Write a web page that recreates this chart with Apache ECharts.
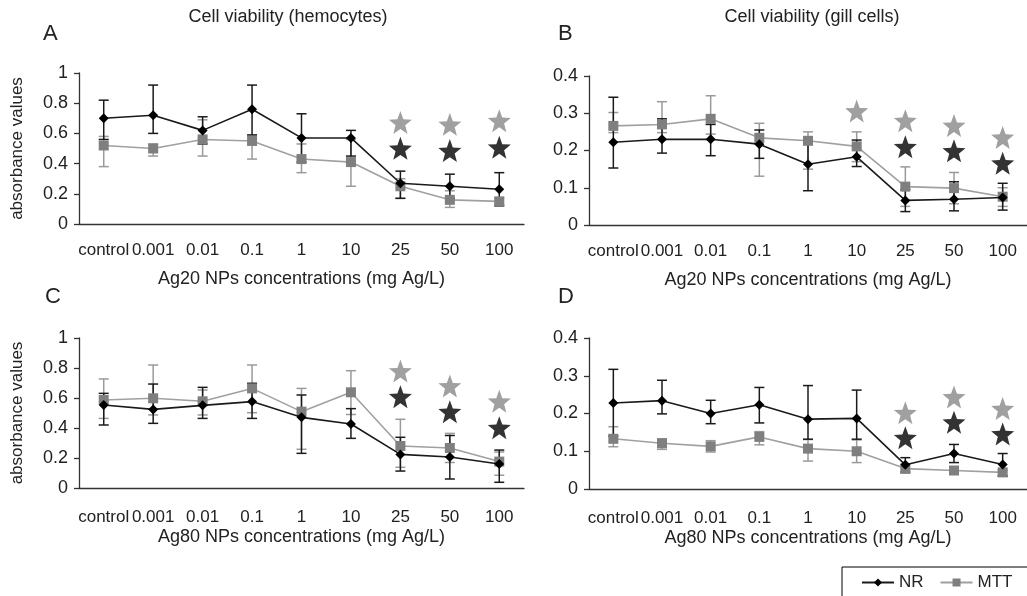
<!DOCTYPE html>
<html>
<head>
<meta charset="utf-8">
<script src="https://cdn.jsdelivr.net/npm/echarts@6/dist/echarts.min.js"></script>
<style>
  html, body { margin: 0; padding: 0; background: #fff; }
  #chart { width: 1027px; height: 596px; }
</style>
</head>
<body>
<div id="chart"></div>
<script>
var categories = ['control', '0.001', '0.01', '0.1', '1', '10', '25', '50', '100'];

// A: hemocytes, Ag20
var A_NR     = [0.70, 0.72, 0.62, 0.76, 0.57, 0.57, 0.27, 0.25, 0.23];
var A_NR_LO  = [0.56, 0.60, 0.53, 0.59, 0.41, 0.45, 0.17, 0.17, 0.12];
var A_NR_HI  = [0.82, 0.92, 0.71, 0.92, 0.73, 0.62, 0.35, 0.33, 0.34];
var A_MTT    = [0.52, 0.50, 0.56, 0.55, 0.43, 0.41, 0.25, 0.16, 0.15];
var A_MTT_LO = [0.38, 0.45, 0.45, 0.43, 0.34, 0.25, 0.17, 0.11, 0.13];
var A_MTT_HI = [0.58, 0.53, 0.69, 0.58, 0.53, 0.56, 0.30, 0.22, 0.17];
var A_STAR_GRAY  = [null, null, null, null, null, null, 0.673, 0.66, 0.684];
var A_STAR_BLACK = [null, null, null, null, null, null, 0.501, 0.486, 0.508];

// B: gill cells, Ag20
var B_NR     = [0.222, 0.230, 0.230, 0.217, 0.163, 0.183, 0.066, 0.069, 0.074];
var B_NR_LO  = [0.153, 0.193, 0.186, 0.179, 0.092, 0.157, 0.036, 0.038, 0.040];
var B_NR_HI  = [0.343, 0.285, 0.270, 0.255, 0.235, 0.228, 0.095, 0.116, 0.112];
var B_MTT    = [0.266, 0.270, 0.285, 0.234, 0.226, 0.211, 0.103, 0.099, 0.076];
var B_MTT_LO = [0.248, 0.248, 0.244, 0.131, 0.150, 0.170, 0.050, 0.057, 0.050];
var B_MTT_HI = [0.302, 0.331, 0.347, 0.273, 0.250, 0.250, 0.156, 0.141, 0.100];
var B_STAR_GRAY  = [null, null, null, null, null, 0.306, 0.28, 0.267, 0.235];
var B_STAR_BLACK = [null, null, null, null, null, null, 0.21, 0.199, 0.166];

// C: hemocytes, Ag80
var C_NR     = [0.553, 0.524, 0.551, 0.576, 0.471, 0.427, 0.224, 0.207, 0.160];
var C_NR_LO  = [0.420, 0.431, 0.464, 0.464, 0.231, 0.331, 0.113, 0.060, 0.038];
var C_NR_HI  = [0.631, 0.693, 0.671, 0.698, 0.620, 0.529, 0.338, 0.350, 0.253];
var C_MTT    = [0.587, 0.598, 0.578, 0.664, 0.509, 0.638, 0.280, 0.267, 0.176];
var C_MTT_LO = [0.464, 0.487, 0.487, 0.502, 0.258, 0.490, 0.138, 0.170, 0.085];
var C_MTT_HI = [0.727, 0.820, 0.653, 0.820, 0.664, 0.782, 0.458, 0.364, 0.240];
var C_STAR_GRAY  = [null, null, null, null, null, null, 0.78, 0.68, 0.578];
var C_STAR_BLACK = [null, null, null, null, null, null, 0.609, 0.509, 0.402];

// D: gill cells, Ag80
var D_NR     = [0.228, 0.234, 0.200, 0.223, 0.185, 0.187, 0.064, 0.094, 0.065];
var D_NR_LO  = [0.140, 0.199, 0.173, 0.175, 0.132, 0.132, 0.045, 0.070, 0.035];
var D_NR_HI  = [0.317, 0.288, 0.235, 0.269, 0.274, 0.262, 0.083, 0.118, 0.094];
var D_MTT    = [0.133, 0.121, 0.113, 0.138, 0.107, 0.100, 0.054, 0.049, 0.044];
var D_MTT_LO = [0.112, 0.105, 0.098, 0.117, 0.074, 0.070, 0.042, 0.044, 0.035];
var D_MTT_HI = [0.165, 0.133, 0.128, 0.152, 0.131, 0.130, 0.066, 0.054, 0.050];
var D_STAR_GRAY  = [null, null, null, null, null, null, 0.202, 0.244, 0.213];
var D_STAR_BLACK = [null, null, null, null, null, null, 0.136, 0.177, 0.146];

var FONT = 'Liberation Sans, Arial, sans-serif';
var TXT = '#222';

var panels = [
  { grid: { left: 79, top: 73, width: 445, height: 151 }, max: 1, interval: 0.2,
    xName: 'Ag20 NPs concentrations (mg Ag/L)', yName: 'absorbance values', margin: 18, nameGap: 46,
    nr: A_NR, nrLo: A_NR_LO, nrHi: A_NR_HI, mtt: A_MTT, mttLo: A_MTT_LO, mttHi: A_MTT_HI,
    starG: A_STAR_GRAY, starB: A_STAR_BLACK },
  { grid: { left: 589, top: 76, width: 448, height: 149 }, max: 0.4, interval: 0.1,
    xName: 'Ag20 NPs concentrations (mg Ag/L)', yName: '', margin: 18, nameGap: 46,
    nr: B_NR, nrLo: B_NR_LO, nrHi: B_NR_HI, mtt: B_MTT, mttLo: B_MTT_LO, mttHi: B_MTT_HI,
    starG: B_STAR_GRAY, starB: B_STAR_BLACK },
  { grid: { left: 79, top: 338, width: 445, height: 150 }, max: 1, interval: 0.2,
    xName: 'Ag80 NPs concentrations (mg Ag/L)', yName: 'absorbance values', margin: 21, nameGap: 40,
    nr: C_NR, nrLo: C_NR_LO, nrHi: C_NR_HI, mtt: C_MTT, mttLo: C_MTT_LO, mttHi: C_MTT_HI,
    starG: C_STAR_GRAY, starB: C_STAR_BLACK },
  { grid: { left: 589, top: 338, width: 447, height: 151 }, max: 0.4, interval: 0.1,
    xName: 'Ag80 NPs concentrations (mg Ag/L)', yName: '', margin: 21, nameGap: 40,
    nr: D_NR, nrLo: D_NR_LO, nrHi: D_NR_HI, mtt: D_MTT, mttLo: D_MTT_LO, mttHi: D_MTT_HI,
    starG: D_STAR_GRAY, starB: D_STAR_BLACK }
];

// five-pointed star outline
function starPath() {
  var pts = [];
  for (var k = 0; k < 10; k++) {
    var a = (-90 + k * 36) * Math.PI / 180;
    var r = k % 2 === 0 ? 50 : 21;
    pts.push((50 + r * Math.cos(a)).toFixed(2) + ' ' + (50 + r * Math.sin(a)).toFixed(2));
  }
  return 'path://M' + pts.join(' L') + ' Z';
}
var STAR = starPath();

function errBars(color) {
  return function (params, api) {
    var x = api.value(0);
    var lo = api.coord([x, api.value(1)]);
    var hi = api.coord([x, api.value(2)]);
    var w = 5;
    var st = { stroke: color, lineWidth: 1.5 };
    return {
      type: 'group',
      children: [
        { type: 'line', shape: { x1: lo[0], y1: lo[1], x2: hi[0], y2: hi[1] }, style: st },
        { type: 'line', shape: { x1: hi[0] - w, y1: hi[1], x2: hi[0] + w, y2: hi[1] }, style: st },
        { type: 'line', shape: { x1: lo[0] - w, y1: lo[1], x2: lo[0] + w, y2: lo[1] }, style: st }
      ]
    };
  };
}

function pairs(arr) {
  var out = [];
  arr.forEach(function (v, i) { if (v != null) out.push([i, v]); });
  return out;
}
function bars(lo, hi) {
  return lo.map(function (v, i) { return [i, v, hi[i]]; });
}

var grids = [], xAxes = [], yAxes = [], series = [];
panels.forEach(function (p, i) {
  grids.push(p.grid);
  xAxes.push({
    type: 'category', gridIndex: i, data: categories, boundaryGap: true,
    name: p.xName, nameLocation: 'middle', nameGap: p.nameGap,
    nameTextStyle: { fontFamily: FONT, fontSize: 18, color: TXT },
    axisLine: { lineStyle: { color: '#333', width: 1.3 } },
    axisTick: { alignWithLabel: false, length: 6, lineStyle: { color: '#333', width: 1.3 } },
    axisLabel: { fontFamily: FONT, fontSize: 17, color: TXT, margin: p.margin, interval: 0 },
    splitLine: { show: false }
  });
  yAxes.push({
    type: 'value', gridIndex: i, min: 0, max: p.max, interval: p.interval,
    name: p.yName, nameLocation: 'middle', nameGap: 53,
    nameTextStyle: { fontFamily: FONT, fontSize: 17, color: TXT },
    axisLine: { show: true, lineStyle: { color: '#333', width: 1.3 } },
    axisTick: { show: true, length: 5, lineStyle: { color: '#333', width: 1.3 } },
    axisLabel: { fontFamily: FONT, fontSize: 18, color: TXT, margin: 11 },
    splitLine: { show: false }
  });
  series.push({
    type: 'custom', xAxisIndex: i, yAxisIndex: i, z: 2,
    renderItem: errBars('#9a9a9a'), encode: { x: 0, y: [1, 2] },
    data: bars(p.mttLo, p.mttHi)
  });
  series.push({
    type: 'custom', xAxisIndex: i, yAxisIndex: i, z: 3,
    renderItem: errBars('#1a1a1a'), encode: { x: 0, y: [1, 2] },
    data: bars(p.nrLo, p.nrHi)
  });
  series.push({
    name: 'MTT', type: 'line', xAxisIndex: i, yAxisIndex: i, z: 4,
    data: p.mtt, symbol: 'rect', symbolSize: 10,
    lineStyle: { color: '#a0a0a0', width: 1.6 },
    itemStyle: { color: '#7f7f7f' }
  });
  series.push({
    name: 'NR', type: 'line', xAxisIndex: i, yAxisIndex: i, z: 5,
    data: p.nr, symbol: 'diamond', symbolSize: 10,
    lineStyle: { color: '#1a1a1a', width: 1.6 },
    itemStyle: { color: '#000' }
  });
  series.push({
    type: 'scatter', xAxisIndex: i, yAxisIndex: i, z: 6,
    data: pairs(p.starG), symbol: STAR, symbolSize: 23,
    itemStyle: { color: '#888888' }
  });
  series.push({
    type: 'scatter', xAxisIndex: i, yAxisIndex: i, z: 6,
    data: pairs(p.starB), symbol: STAR, symbolSize: 23,
    itemStyle: { color: '#000' }
  });
});

var chart = echarts.init(document.getElementById('chart'), null, { renderer: 'canvas' });
chart.setOption({
  animation: false,
  backgroundColor: '#fff',
  grid: grids,
  xAxis: xAxes,
  yAxis: yAxes,
  series: series,
  legend: {
    data: ['NR', 'MTT'], left: 842, top: 567, width: 300,
    itemWidth: 32, itemHeight: 10, itemGap: 16,
    padding: [7, 30, 12, 19],
    borderColor: '#000', borderWidth: 1,
    textStyle: { fontFamily: FONT, fontSize: 17, color: TXT }
  },
  graphic: [
    { type: 'text', x: 288, y: 17, style: { text: 'Cell viability (hemocytes)', font: '18px ' + FONT, fill: TXT, align: 'center', verticalAlign: 'middle' } },
    { type: 'text', x: 812, y: 17, style: { text: 'Cell viability (gill cells)', font: '18px ' + FONT, fill: TXT, align: 'center', verticalAlign: 'middle' } },
    { type: 'text', x: 43, y: 23, style: { text: 'A', font: '22px ' + FONT, fill: TXT } },
    { type: 'text', x: 558, y: 23, style: { text: 'B', font: '22px ' + FONT, fill: TXT } },
    { type: 'text', x: 45, y: 286, style: { text: 'C', font: '22px ' + FONT, fill: TXT } },
    { type: 'text', x: 558, y: 286, style: { text: 'D', font: '22px ' + FONT, fill: TXT } }
  ]
});
</script>
</body>
</html>
